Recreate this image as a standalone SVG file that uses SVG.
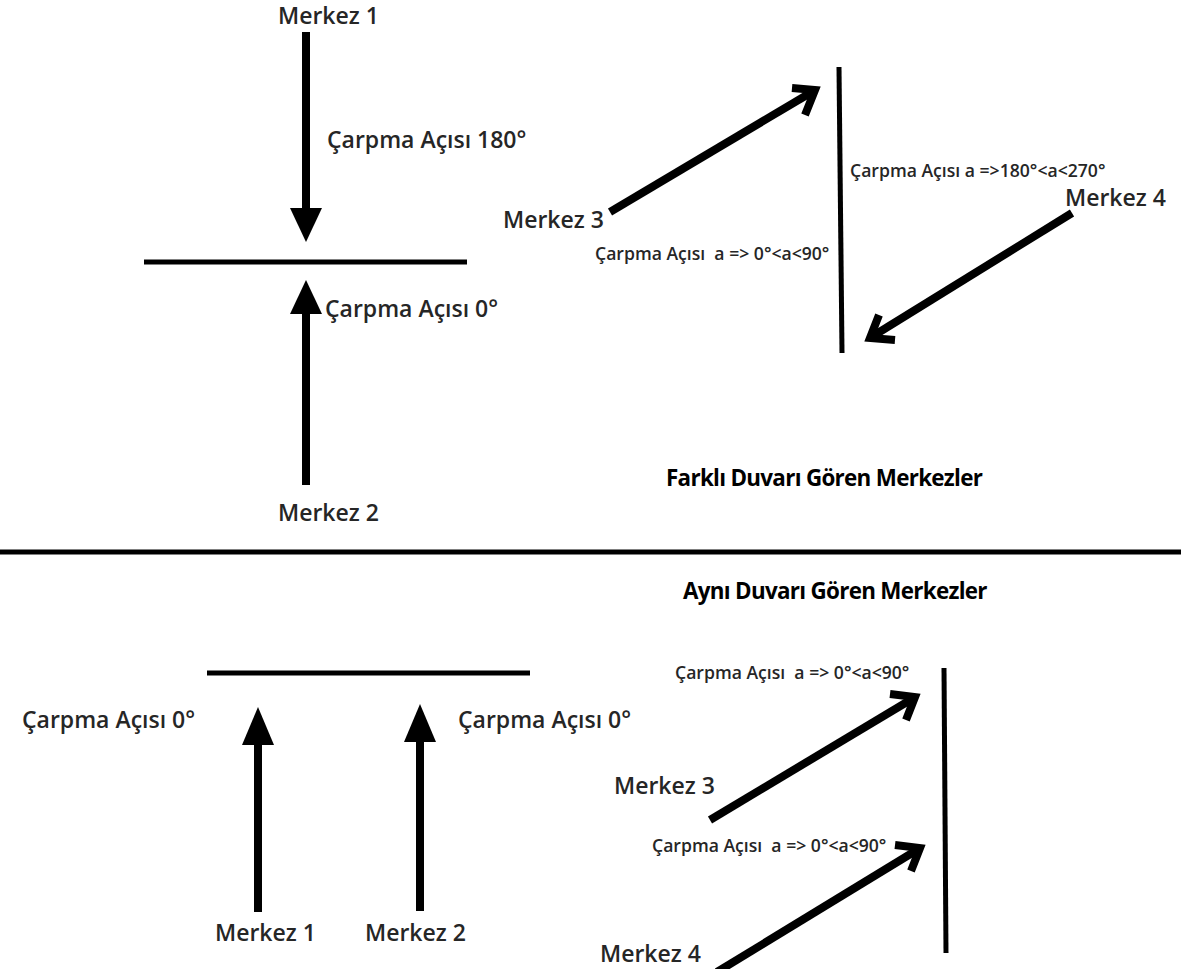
<svg xmlns="http://www.w3.org/2000/svg" width="1181" height="969" viewBox="0 0 1181 969">
<style>
.big{font-family:"Open Sans","Noto Sans","Liberation Sans",sans-serif;font-weight:600;font-size:23px;fill:#262626}
.title{font-family:"Open Sans","Noto Sans","Liberation Sans",sans-serif;font-weight:700;font-size:22.4px;letter-spacing:-0.7px;fill:#000}
.sm{font-family:"Open Sans","Noto Sans","Liberation Sans",sans-serif;font-weight:600;font-size:17.6px;fill:#262626;white-space:pre}
.wall{stroke:#000;stroke-width:5;fill:none}
.shaft{stroke:#000;stroke-width:8;fill:none}
.chev{stroke:#000;stroke-width:8;fill:none;stroke-linejoin:miter;stroke-miterlimit:10}
.head{fill:#000}
</style>
<rect width="1181" height="969" fill="#fff"/>
<g id="walls">
<line class="wall" x1="144" y1="262" x2="467" y2="262"/>
<line class="wall" x1="839" y1="67" x2="842" y2="353"/>
<line class="wall" x1="0" y1="552" x2="1181" y2="552"/>
<line class="wall" x1="207" y1="673" x2="530" y2="673"/>
<line class="wall" x1="944" y1="668" x2="946" y2="953"/>
</g>
<g id="connectors">
<line class="shaft" x1="306" y1="32" x2="306" y2="212"/>
<polygon class="head" points="290,208 322,208 306,242"/>
<line class="shaft" x1="306" y1="312" x2="306" y2="485"/>
<polygon class="head" points="290,314 322,314 306,280"/>
<line class="shaft" x1="610" y1="212" x2="812" y2="92"/>
<polyline class="chev" points="792,88 815,90 805,115"/>
<line class="shaft" x1="1072" y1="213" x2="873" y2="336"/>
<polyline class="chev" points="879,315 870,338 895,340"/>
<line class="shaft" x1="258" y1="742" x2="258" y2="912"/>
<polygon class="head" points="242,745 274,745 258,707"/>
<line class="shaft" x1="420" y1="740" x2="420" y2="911"/>
<polygon class="head" points="404,742 436,742 420,704"/>
<line class="shaft" x1="710" y1="820" x2="912" y2="699"/>
<polyline class="chev" points="890,694 915,697 906,720"/>
<line class="shaft" x1="717" y1="972" x2="917" y2="850"/>
<polyline class="chev" points="895,845 920,848 911,871"/>
</g>
<g id="top-merkez1"><text class="big" x="278" y="24">Merkez 1</text></g>
<g id="top-label180"><text class="big" x="327" y="148">Çarpma Açısı 180°</text></g>
<g id="top-label0"><text class="big" x="325" y="317">Çarpma Açısı 0°</text></g>
<g id="top-merkez2"><text class="big" x="278" y="521">Merkez 2</text></g>
<g id="top-merkez3"><text class="big" x="503" y="228">Merkez 3</text></g>
<g id="top-label3"><text class="sm" x="595" y="260">Çarpma Açısı  a =&gt; 0°&lt;a&lt;90°</text></g>
<g id="top-label4"><text class="sm" x="850" y="177">Çarpma Açısı a =&gt;180°&lt;a&lt;270°</text></g>
<g id="top-merkez4"><text class="big" x="1065" y="206">Merkez 4</text></g>
<g id="title-farkli"><text class="title" x="666" y="486">Farklı Duvarı Gören Merkezler</text></g>
<g id="title-ayni"><text class="title" x="683" y="599">Aynı Duvarı Gören Merkezler</text></g>
<g id="bot-label0-left"><text class="big" x="22" y="728">Çarpma Açısı 0°</text></g>
<g id="bot-label0-right"><text class="big" x="458" y="728">Çarpma Açısı 0°</text></g>
<g id="bot-merkez1"><text class="big" x="215" y="941">Merkez 1</text></g>
<g id="bot-merkez2"><text class="big" x="365" y="941">Merkez 2</text></g>
<g id="bot-label3"><text class="sm" x="675" y="679">Çarpma Açısı  a =&gt; 0°&lt;a&lt;90°</text></g>
<g id="bot-merkez3"><text class="big" x="614" y="794">Merkez 3</text></g>
<g id="bot-label4"><text class="sm" x="652" y="852">Çarpma Açısı  a =&gt; 0°&lt;a&lt;90°</text></g>
<g id="bot-merkez4"><text class="big" x="600" y="962">Merkez 4</text></g>
</svg>
